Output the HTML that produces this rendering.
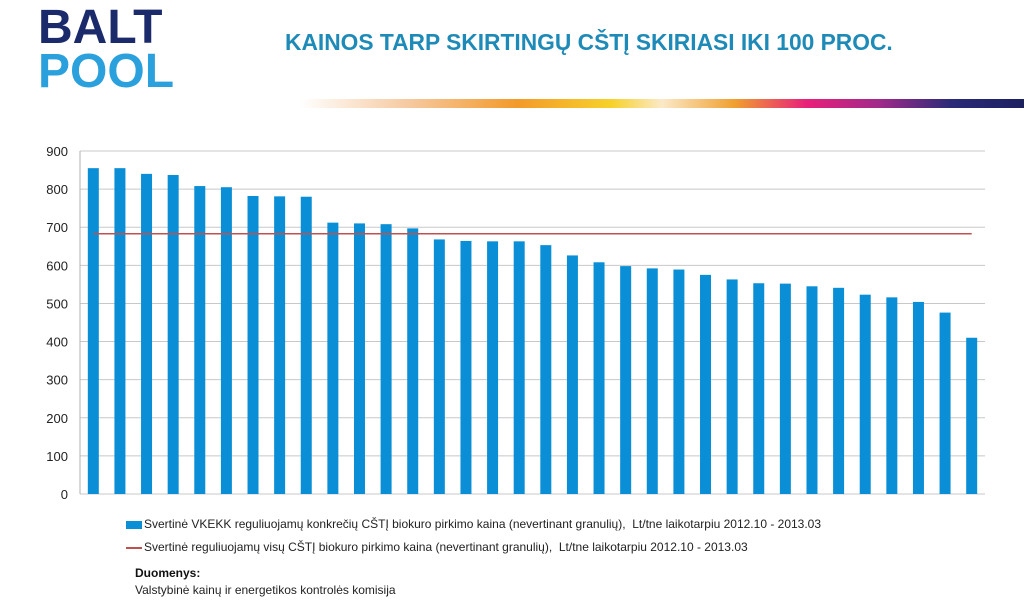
<!DOCTYPE html>
<html><head><meta charset="utf-8">
<style>
body{margin:0;width:1024px;height:608px;background:#fff;position:relative;overflow:hidden;font-family:"Liberation Sans",sans-serif;}
.abs{position:absolute;}
</style></head>
<body>
<div class="abs" style="left:38px;top:4px;width:150px;height:92px;">
 <div style="position:absolute;left:0;top:1px;font:bold 48px 'Liberation Sans',sans-serif;color:#1b2a6b;letter-spacing:0px;line-height:46px;transform:scaleX(1.0);transform-origin:left;">BALT</div>
 <div style="position:absolute;left:0;top:45px;font:bold 48px 'Liberation Sans',sans-serif;color:#2aa0dc;letter-spacing:0px;line-height:46px;transform:scaleX(1.0);transform-origin:left;">POOL</div>
</div>
<div class="abs" style="left:285px;top:29px;font-weight:bold;font-size:23px;color:#1e8ab8;white-space:nowrap;transform:scaleX(0.99);transform-origin:left;">KAINOS TARP SKIRTINGŲ CŠTĮ SKIRIASI IKI 100 PROC.</div>
<div class="abs" style="left:300px;top:99px;width:724px;height:9px;background:linear-gradient(90deg,#fff 0%,#f6c9a0 15%,#f39a2a 30%,#f7d12a 43%,#fbe9c8 50%,#f0a030 60%,#e8207a 70%,#a02a8a 80%,#2a2a78 90%,#1b2060 100%);"></div>

<svg class="abs" style="left:0;top:0" width="1024" height="608">
 <g id="grid"></g><g id="bars"></g><g id="line"></g><g id="ylabels"></g>
</svg>

<div class="abs" style="left:126px;top:517px;font-size:12px;color:#222;white-space:nowrap;">
 <span style="display:inline-block;width:16px;height:8px;background:#0a8fd6;vertical-align:middle;margin-right:2px;"></span>Svertinė VKEKK reguliuojamų konkrečių CŠTĮ biokuro pirkimo kaina (nevertinant granulių),&nbsp; Lt/tne laikotarpiu 2012.10 - 2013.03</div>
<div class="abs" style="left:126px;top:540px;font-size:12px;color:#222;white-space:nowrap;">
 <span style="display:inline-block;width:16px;height:2px;background:#c0504d;vertical-align:middle;margin-right:2px;"></span>Svertinė reguliuojamų visų CŠTĮ biokuro pirkimo kaina (nevertinant granulių),&nbsp; Lt/tne laikotarpiu 2012.10 - 2013.03</div>
<div class="abs" style="left:135px;top:566px;font-size:12px;font-weight:bold;color:#111;">Duomenys:</div>
<div class="abs" style="left:135px;top:583px;font-size:12px;color:#222;">Valstybinė kainų ir energetikos kontrolės komisija</div>

<script>
const values=[855,855,840,837,808,805,782,781,780,712,710,708,697,668,664,663,663,653,626,608,598,592,589,575,563,553,552,545,541,523,516,504,476,410];
const avgValue=[683];
const yTicks=[0,100,200,300,400,500,600,700,800,900];
const NS='http://www.w3.org/2000/svg';
const x0=80,x1=985,yTop=151,yBot=494,yMax=900;
const step=(x1-x0)/values.length;
function y(v){return yBot-(v/yMax)*(yBot-yTop);}
function xc(i){return x0+step*(i+0.5);}
function mk(t,a,p){const e=document.createElementNS(NS,t);for(const k in a)e.setAttribute(k,a[k]);document.getElementById(p).appendChild(e);return e;}
yTicks.forEach(t=>{
 const l=mk('line',{x1:x0,x2:x1,y1:y(t),y2:y(t),stroke:'#c8c8c8','stroke-width':1},'grid');
 
 
 const tx=mk('text',{x:x0-12,y:y(t)+5,'text-anchor':'end','font-size':'13','font-family':'Liberation Sans, sans-serif',fill:'#222'},'ylabels');
 tx.textContent=t;
 
 
});
const ax=mk('line',{x1:x0,x2:x0,y1:yTop,y2:yBot,stroke:'#b0b0b0'},'grid');


values.forEach((v,i)=>{
 const r=mk('rect',{x:xc(i)-5.5,y:y(v),width:11,height:yBot-y(v),fill:'#0a8fd6'},'bars');
 
 
});
const ln=mk('line',{x1:xc(0),x2:xc(values.length-1),y1:y(avgValue[0]),y2:y(avgValue[0]),stroke:'#c0504d','stroke-width':1.5},'line');


</script>
</body></html>
